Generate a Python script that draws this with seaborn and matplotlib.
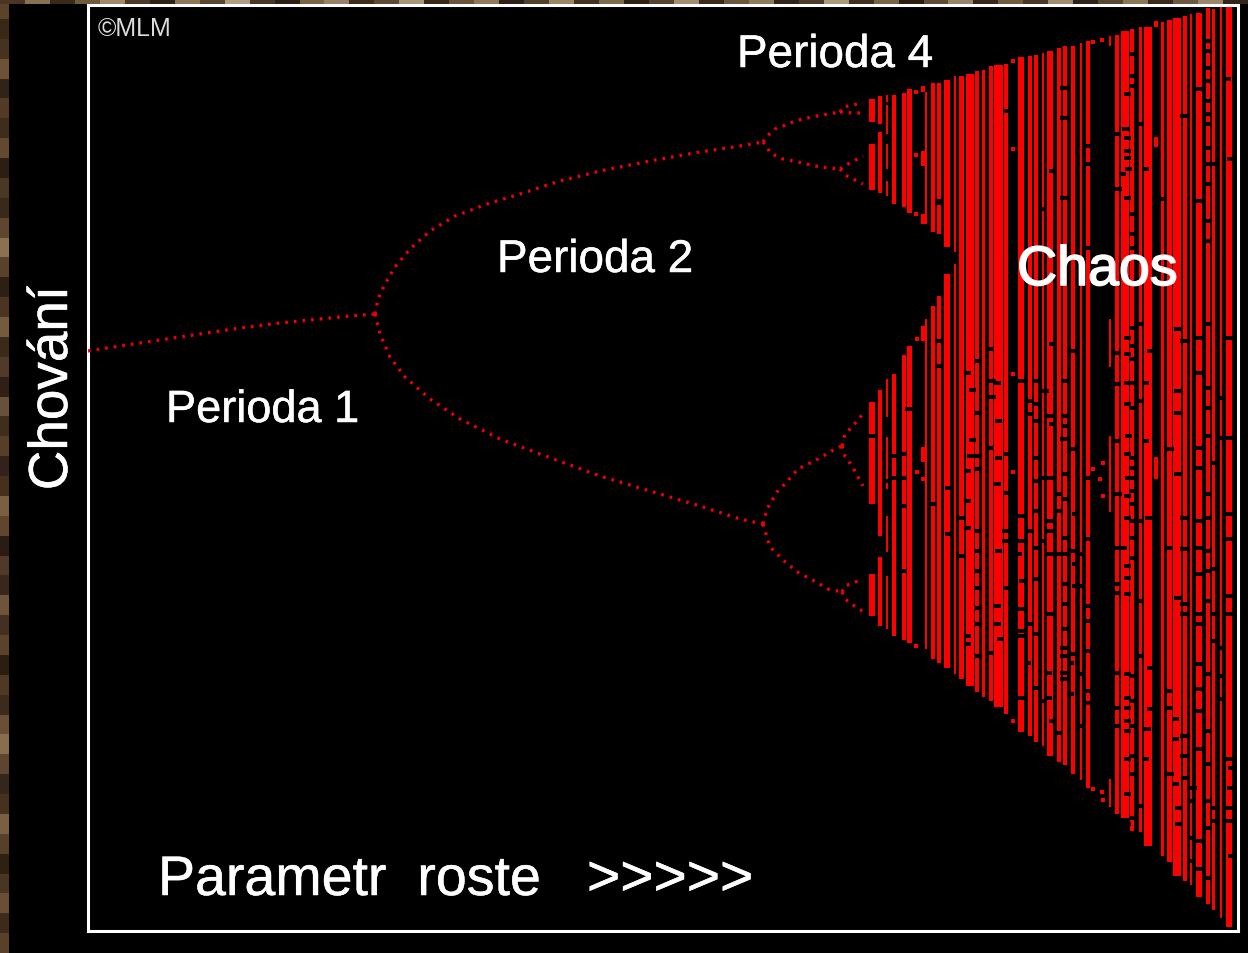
import matplotlib
matplotlib.use("Agg")
import matplotlib.pyplot as plt
from matplotlib.patches import Rectangle
import matplotlib.patheffects as pe
import seaborn as sns

sns.set_theme(style="dark")
plt.rcParams["font.family"] = ["Liberation Sans", "DejaVu Sans"]

RED = "#ff0000"
band_left  = [869,878,886,892,902,907,925,931,937,944,954,959,966,975,982,989,994,1004,1018,1028,1034,1042,1047,1057,1063,1071,1080,1086,1115,1121,1130,1139,1144,1161,1167,1173,1183,1190,1196,1206,1212,1220,1226]
band_right = [875,882,888,896,906,912,927,935,941,950,956,964,974,979,985,993,1003,1008,1024,1032,1038,1044,1053,1061,1067,1075,1082,1090,1119,1129,1134,1142,1152,1164,1172,1181,1187,1192,1202,1210,1215,1222,1232]
band_top   = [100,97,96,96,94,90,93,84,84,81,77,77,75,72,71,67,66,65,58,57,56,54,52,49,47,47,44,42,36,32,30,28,28,23,21,19,17,15,14,9,10,8,8]
band_bottom= [617,627,630,637,641,644,650,660,664,669,675,680,687,693,698,702,708,715,733,737,743,747,757,763,766,775,781,789,815,819,832,833,847,857,863,877,882,886,898,905,911,919,928]

gap_left   = [869,878,886,892,902,907,925,931,937,944,954,869,878,869,878,886,886,886,937,886,886,886]
gap_right  = [875,882,888,896,906,912,927,935,941,950,956,875,882,875,882,888,888,888,941,888,888,888]
gap_top    = [191,194,197,205,208,214,225,233,235,248,253,505,537,123,125,103,135,170,200,418,490,553]
gap_bottom = [403,391,380,375,356,347,320,307,297,275,265,575,558,145,133,106,145,182,205,438,515,577]

piece_left   = [921,921,921,921,921,1109,1109,1109,1109,1154,1154,1154]
piece_right  = [925,925,925,925,925,1111,1111,1111,1111,1158,1158,1158]
piece_top    = [87,152,215,327,448,37,320,437,780,22,138,458]
piece_bottom = [93,167,225,342,463,47,368,513,808,28,148,480]

hole_x = [1132,1132,1132,1127,1117,1125,1127,1127,1127,1122,1128,1118,1127,1132,1132,1132,1140,1145,1007,1063,1063,1063,1042,1052,1087,1087,1087,1183,1198,1207,1207,1207,1207,1207,1207,1207,1207,1207,1213,1227,1230,1163,1198,1207,1207,1207,938,
 938,938,948,948,932,908,903,903,903,903,895,895,887,887,872,967,972,972,970,967,967,962,967,962,977,977,977,977,977,977,977,977,977,977,990,992,997,992,990,998,998,997,998,1007,1007,1005,1005,1007,997,997,
 1020,1020,1020,1018,1022,1020,1020,1030,1035,1035,1030,1035,1035,1035,1035,1030,1035,1035,1030,1035,1045,1050,1052,1042,1050,1050,1050,1043,1050,1050,1052,1065,1065,1065,1063,1065,1058,1065,1058,1065,1058,1065,1065,1065,1065,1072,1073,1073,1075,1075,1075,1082,1082,1088,1088,1088,1088,
 1117,1117,1117,1118,1118,1117,1117,1127,1127,1127,1127,1128,1127,1128,1127,1127,1123,1127,1127,1127,1132,1132,1132,1132,1132,1132,1132,1132,1132,1132,1132,1132,1132,1140,1140,1145,1145,1140,1150,1148,1140,1170,1177,1183,1177,1177,1177,1183,1168,1183,1177,1183,1183,1198,1198,1198,1198,1198,1198,1198,1198,1198,1207,1207,1207,1207,1207,1207,1207,1207,1207,1213,1213,1213,1222,1220,1228,1228,1228,1228,1228,1228,
 967,967,977,990,1000,1020,1027,1035,1020,1048,1048,1042,1063,1063,1063,1063,1070,1073,1080,1087,1087,1087,1058,1080,1070,1052,1117,1117,1117,1127,1127,1127,1127,1127,1127,1127,1132,1132,1132,1132,1132,1150,1150,1147,1145,1140,1132,1127,1140,1168,1168,1175,1175,1170,1175,1178,1178,1183,1183,1185,1193,1198,1198,1198,1198,1198,1192,1192,1208,1208,1208,1208,1208,1208,1213,1213,1213,1228,1230,1228,1228,1231,1231,1220,1220,1222,1192,1198]
hole_y = [53,75,85,93,133,128,137,150,157,173,168,188,197,213,233,247,123,168,110,87,117,197,208,170,145,163,247,115,88,40,50,67,80,100,113,123,147,163,163,78,158,198,200,183,220,240,202,
 340,365,487,533,503,408,453,477,505,570,455,477,480,513,435,372,389,439,455,470,500,517,527,555,360,412,455,468,530,550,570,587,607,623,348,380,382,396,447,420,457,483,550,453,492,530,540,587,605,623,
 380,515,540,553,580,608,630,400,380,403,413,420,457,480,510,530,547,578,623,633,390,415,423,477,477,520,530,540,553,613,343,380,415,425,438,473,493,498,510,537,553,553,583,603,628,350,448,550,563,585,513,553,585,477,538,605,620,
 352,383,440,493,547,583,592,337,353,382,403,435,453,477,495,517,547,565,577,593,327,345,358,382,407,457,467,477,490,503,520,537,557,323,400,382,440,520,350,517,600,448,328,340,390,412,473,517,547,548,597,603,613,337,372,447,467,520,547,573,613,623,323,387,407,435,493,517,550,570,600,462,568,613,397,437,337,437,513,538,595,613,
 635,643,655,652,638,635,662,687,697,672,697,700,647,655,672,678,662,653,673,650,690,702,732,725,693,720,672,707,725,673,697,707,720,730,758,793,773,675,700,725,755,667,708,728,758,805,817,823,655,690,707,718,738,773,783,807,823,735,755,777,787,663,688,710,748,840,800,837,673,730,763,800,827,877,640,807,820,758,787,807,820,855,767,675,698,647,860,868]

dot_x = [916,916,916,917,917,923,916,1013,1013,1013,1013,1013,1093,1103,1103,1100,1093,1102,1093,1102,1103]
dot_y = [93,156,215,340,473,480,647,62,150,375,473,722,470,464,497,480,43,41,790,793,801]

period1_x = [88,120,160,200,240,280,320,350,375]
period1_y = [352,347,341,335,329,324,320,317,315]
p2u_x = [375,378,385,395,410,430,455,490,520,560,600,650,700,740,763]
p2u_y = [315,300,285,268,250,232,217,204,195,182,172,162,153,147,143]
p2l_x = [375,380,390,405,430,460,500,540,600,650,700,740,763]
p2l_y = [315,335,358,378,400,420,440,455,477,492,507,520,525]
p4a_x = [763,767,775,783,798,817,840]
p4a_y = [143,137,130,127,121,117,113]
p4b_x = [763,767,770,783,798,820,840]
p4b_y = [143,147,154,160,163,168,170]
p4c_x = [763,767,777,783,798,818,835,842]
p4c_y = [525,510,493,487,470,460,450,447]
p4d_x = [763,767,770,783,799,818,828,842]
p4d_y = [525,538,548,561,574,584,590,593]
p8_branches = [([840,843,863],[113,108,104]),([840,853,865],[113,114,114]),
               ([840,848,863],[170,165,157]),([840,847,863],[170,177,185]),
               ([842,845,852,863],[447,435,428,415]),([842,845,852,863],[447,457,467,487]),
               ([842,845,863],[593,587,580]),([842,845,857,864],[593,600,609,613])]

strip_side = ["#5a4029","#3d2a1a","#6b4f35","#4a3522","#2f2012","#57402a","#7a5f42","#46311f","#35251a","#5e4530","#8a6d4c","#6a4f36","#3c2a1b","#4f3924","#2b1d10","#5c4229","#433020","#6f5439","#38271a","#51392a","#2a1c12","#60462e","#7b5f40","#45301e","#31221a","#563e28","#402d1c","#68503a","#2e2015","#53392a","#3b2a1a","#755a3d","#4b3522","#2d1f12","#5a412a","#8c7050","#5f4630","#3a291a","#4c3624","#2c1e12","#63492f","#3f2c1c","#523a26","#31221a","#6d5238","#46321f","#392818","#5b422b"]
strip_top  = ["#4a3522","#8a7052","#3a2a1a","#6f5a40","#a08a6a","#4d3a28","#2f2113","#8c7658","#5a4630","#b09c80","#4a3826","#2d1f12","#7a6446","#98826a","#3f2d1c","#5e4a34","#a89478","#3a2918","#6a543c","#90795c","#2e2014","#50402c","#9c8668","#443220","#7e6a4e","#2f2214","#584430","#a48e72","#3b2a1a","#6c563e","#8e7a5e","#33241a","#4e3c2a","#ac9a7e","#402e1e","#7a6448","#2d1e12","#604c36","#988468","#36271a","#725c42","#4a3826","#a28c70","#2f2216","#5a4832","#8a7658","#3a2a1c","#6e5840","#9a866a","#33251a"]

fig = plt.figure(figsize=(12.48, 9.54), dpi=100, facecolor="black")
for i, c in enumerate(strip_side):
    fig.add_artist(Rectangle((0, i/len(strip_side)), 9/1248, 1/len(strip_side), color=c, lw=0, transform=fig.transFigure))
for i, c in enumerate(strip_top):
    fig.add_artist(Rectangle((i/len(strip_top), 949/954), 1/len(strip_top), 5/954, color=c, lw=0, transform=fig.transFigure))

ax = fig.add_axes([88/1248, (954-932)/954, 1150/1248, 926/954], facecolor="black")
ax.set_xlim(88, 1238)
ax.set_ylim(932, 6)
ax.set_xticks([]); ax.set_yticks([])
ax.grid(False)
for s in ax.spines.values():
    s.set_color("white"); s.set_linewidth(2.2)

widths = [r-l for l, r in zip(band_left, band_right)]
heights = [b-t for t, b in zip(band_top, band_bottom)]
ax.bar(band_left, heights, width=widths, bottom=band_top, align="edge", color=RED, lw=0, zorder=2)
ax.bar(piece_left, [b-t for t, b in zip(piece_top, piece_bottom)], width=[r-l for l, r in zip(piece_left, piece_right)],
       bottom=piece_top, align="edge", color=RED, lw=0, zorder=2)
ax.bar(gap_left, [b-t for t, b in zip(gap_top, gap_bottom)], width=[r-l for l, r in zip(gap_left, gap_right)],
       bottom=gap_top, align="edge", color="black", lw=0, zorder=3)
ax.bar(hole_x, [4]*len(hole_x), width=[7]*len(hole_x), bottom=hole_y, align="center", color="black", lw=0, zorder=3)
sns.scatterplot(x=dot_x, y=dot_y, marker="s", s=8, color=RED, linewidth=0, ax=ax, zorder=4)

branches = [(period1_x, period1_y), (p2u_x, p2u_y), (p2l_x, p2l_y), (p4a_x, p4a_y), (p4b_x, p4b_y), (p4c_x, p4c_y), (p4d_x, p4d_y)] + p8_branches
for bx, by in branches:
    sns.lineplot(x=bx, y=by, color="#f00000", lw=2.4, linestyle=(0, (0.8, 1.8)), sort=False, estimator=None, ax=ax, zorder=4, legend=False)

thin = [pe.withStroke(linewidth=0.35, foreground="white")]
thick = [pe.withStroke(linewidth=1.2, foreground="white")]
txt = dict(color="white", va="baseline", ha="left", zorder=6, clip_on=False)
ax.text(166, 423, "Perioda 1", fontsize=32.5, path_effects=thin, **txt)
ax.text(497, 273, "Perioda 2", fontsize=33, path_effects=thin, **txt)
ax.text(737, 68, "Perioda 4", fontsize=33, path_effects=thin, **txt)
ax.text(1017, 286, "Chaos", fontsize=40, path_effects=thick, **txt)
ax.text(158, 896, "Parametr  roste", fontsize=40, path_effects=thin, **txt)
ax.text(587, 896, ">>>>>", fontsize=41, path_effects=thin, **txt)
ax.text(98, 36, "\u00a9MLM", fontsize=18, color="#dddddd", va="baseline", ha="left", zorder=6)
fig.text(79/1248, 1-389/954, "Chov\u00e1n\u00ed", fontsize=39.5, color="white", rotation=90, va="center", ha="right",
         path_effects=thin)

fig.savefig("out.png", dpi=100, facecolor="black")
